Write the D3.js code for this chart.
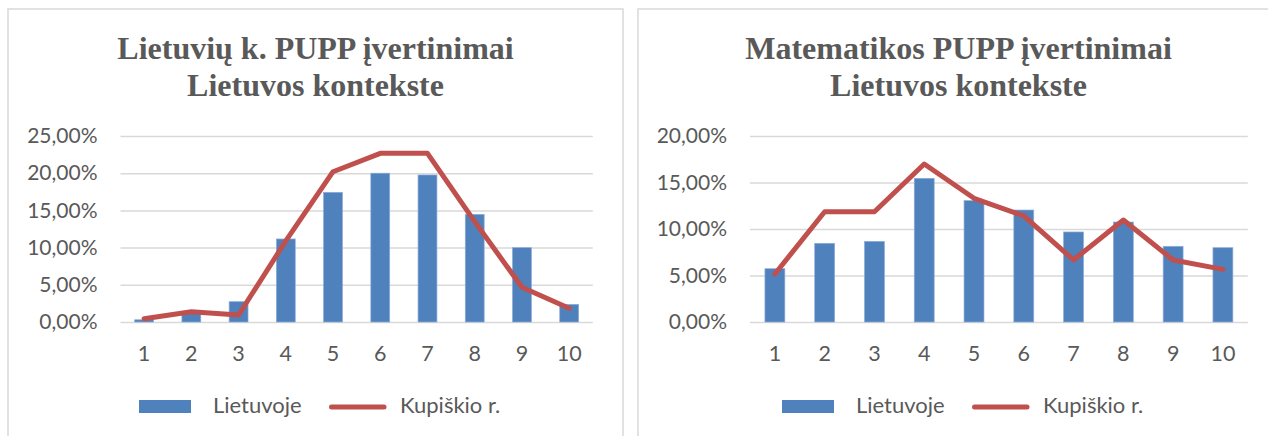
<!DOCTYPE html>
<html>
<head>
<meta charset="utf-8">
<script src="https://cdn.jsdelivr.net/npm/d3@7"></script>
<style>
  html, body { margin: 0; padding: 0; background: #fff; overflow: hidden; }
  svg { display: block; }
</style>
</head>
<body>
<div id="chart"></div>
<script>
// pažymiai (x ašis)
const categories = ["1", "2", "3", "4", "5", "6", "7", "8", "9", "10"];

// Lietuvių k. PUPP, % mokinių
const lietLietuvoje = [0.3, 1.2, 2.73, 11.16, 17.43, 20.0, 19.76, 14.47, 9.99, 2.37];
const lietKupiskio  = [0.45, 1.39, 0.94, 10.9, 20.2, 22.67, 22.67, 13.5, 4.66, 1.84];
const lietTicks = [0, 5, 10, 15, 20, 25];

// Matematikos PUPP, % mokinių
const matLietuvoje = [5.73, 8.46, 8.67, 15.45, 13.05, 12.04, 9.68, 10.75, 8.14, 7.99];
const matKupiskio  = [5.16, 11.86, 11.86, 16.99, 13.3, 11.4, 6.67, 10.97, 6.67, 5.66];
const matTicks = [0, 5, 10, 15, 20];

const seriesNames = ["Lietuvoje", "Kupiškio r."];

const W = 1268, H = 436;
const textColor = "#595959";
const sans = "Lato, 'Open Sans', sans-serif";

const lt = d3.formatLocale({decimal: ",", thousands: " ", grouping: [3], currency: ["", " €"]});
const pct = v => lt.format(".2f")(v) + "%";

const svg = d3.select("#chart")
  .append("svg")
    .attr("width", W)
    .attr("height", H);

function drawChart(opts) {
  const g = svg.append("g");

  // rėmelis
  g.append("rect")
    .attr("x", opts.panel[0])
    .attr("y", 9)
    .attr("width", opts.panel[1] - opts.panel[0])
    .attr("height", 460)
    .attr("fill", "none")
    .attr("stroke", "#d9d9d9")
    .attr("stroke-width", 1.5);

  const cx = (opts.panel[0] + opts.panel[1]) / 2;

  // pavadinimas
  const title = g.append("text")
    .attr("text-anchor", "middle")
    .attr("font-family", "'Liberation Serif', 'Times New Roman', serif")
    .attr("font-weight", "bold")
    .attr("font-size", 32)
    .attr("fill", textColor);
  opts.title.forEach((t, i) => {
    title.append("tspan").attr("x", cx).attr("y", 59 + i * 37).text(t);
  });

  const x = d3.scaleBand()
    .domain(categories)
    .range(opts.plotX);

  const y = d3.scaleLinear()
    .domain([0, d3.max(opts.ticks)])
    .range([322, 136]);

  // y ašis + tinklelis
  const yAxis = g.append("g")
    .attr("transform", `translate(${opts.plotX[0]},0)`)
    .call(d3.axisLeft(y)
      .tickValues(opts.ticks)
      .tickSize(-(opts.plotX[1] - opts.plotX[0]))
      .tickPadding(23)
      .tickFormat(pct));
  yAxis.select(".domain").remove();
  yAxis.selectAll(".tick line")
    .attr("stroke", "#d9d9d9")
    .attr("stroke-width", 1.5);
  yAxis.selectAll(".tick text")
    .attr("fill", textColor)
    .attr("font-family", sans)
    .attr("font-size", 21);

  // stulpeliai
  const bw = x.bandwidth() / 2.5;
  g.selectAll("rect.bar")
    .data(opts.bars.map((v, i) => ({cat: categories[i], v})))
    .join("rect")
      .attr("class", "bar")
      .attr("x", d => x(d.cat) + (x.bandwidth() - bw) / 2)
      .attr("y", d => y(d.v))
      .attr("width", bw)
      .attr("height", d => y(0) - y(d.v))
      .attr("fill", "#4f81bd")
      .attr("stroke", "#8eacd8")
      .attr("stroke-width", 0.7);

  // linija
  const line = d3.line()
    .x(d => x(d.cat) + x.bandwidth() / 2)
    .y(d => y(d.v));
  g.append("path")
    .datum(opts.line.map((v, i) => ({cat: categories[i], v})))
    .attr("d", line)
    .attr("fill", "none")
    .attr("stroke", "#c0504d")
    .attr("stroke-width", 5)
    .attr("stroke-linejoin", "round")
    .attr("stroke-linecap", "round");

  // x ašies žymės
  g.selectAll("text.xlab")
    .data(categories)
    .join("text")
      .attr("class", "xlab")
      .attr("x", d => x(d) + x.bandwidth() / 2)
      .attr("y", 361)
      .attr("text-anchor", "middle")
      .attr("font-family", sans)
      .attr("font-size", 21.5)
      .attr("fill", textColor)
      .text(d => d);

  // legenda
  const lg = g.append("g").attr("transform", `translate(${cx},0)`);
  lg.append("rect")
    .attr("x", -176.5).attr("y", 400)
    .attr("width", 52).attr("height", 13)
    .attr("fill", "#4f81bd");
  lg.append("text")
    .attr("x", -102.5).attr("y", 413)
    .attr("font-family", sans).attr("font-size", 22)
    .attr("fill", textColor)
    .text(seriesNames[0]);
  lg.append("line")
    .attr("x1", 16).attr("x2", 68.5)
    .attr("y1", 407).attr("y2", 407)
    .attr("stroke", "#c0504d")
    .attr("stroke-width", 5)
    .attr("stroke-linecap", "round");
  lg.append("text")
    .attr("x", 84.5).attr("y", 413)
    .attr("font-family", sans).attr("font-size", 22)
    .attr("fill", textColor)
    .text(seriesNames[1]);
}

drawChart({
  panel: [8, 623],
  title: ["Lietuvių k. PUPP įvertinimai", "Lietuvos kontekste"],
  plotX: [120.5, 592.8],
  ticks: lietTicks,
  bars: lietLietuvoje,
  line: lietKupiskio
});

drawChart({
  panel: [638, 1279],
  title: ["Matematikos PUPP įvertinimai", "Lietuvos kontekste"],
  plotX: [750, 1247.8],
  ticks: matTicks,
  bars: matLietuvoje,
  line: matKupiskio
});
</script>
</body>
</html>
